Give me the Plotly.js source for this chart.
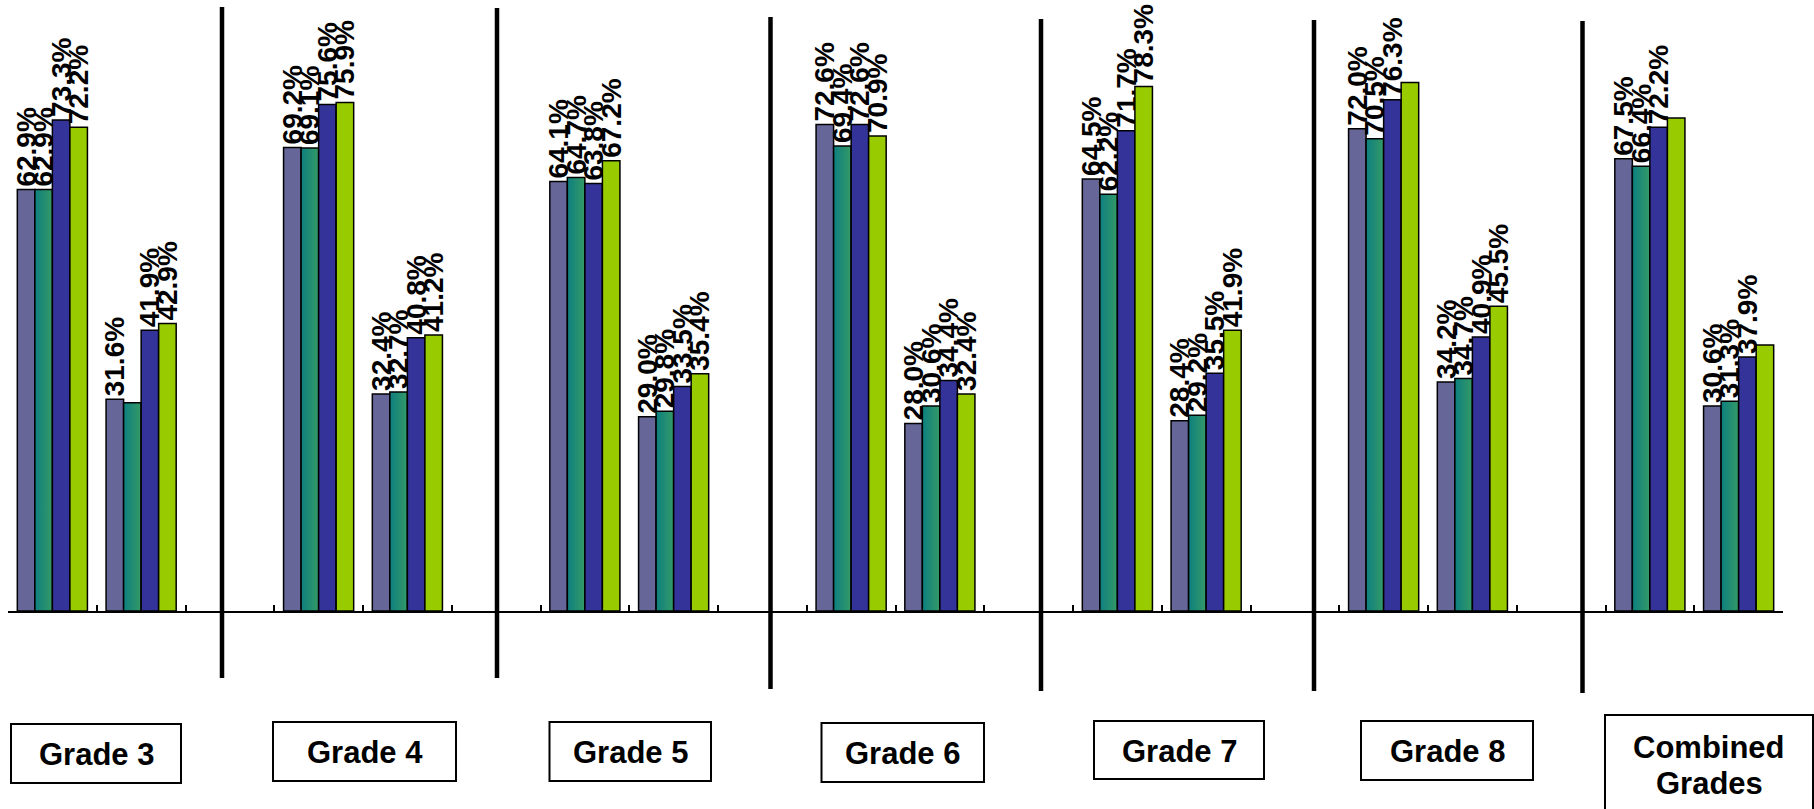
<!DOCTYPE html>
<html>
<head>
<meta charset="utf-8">
<script src="https://cdn.plot.ly/plotly-3.0.1.min.js"></script>
<style>
  html, body { margin: 0; padding: 0; background: #ffffff; }
  #chart { width: 1814px; height: 809px; }
</style>
</head>
<body>
<div id="chart"></div>
<script>
// ---------------- DATA ----------------
const grades = ['Grade 3', 'Grade 4', 'Grade 5', 'Grade 6', 'Grade 7', 'Grade 8', 'Combined<br>Grades'];
const subgroups = ['A', 'B'];               // two bar clusters per grade
const seriesNames = ['Series 1', 'Series 2', 'Series 3', 'Series 4'];

// values per grade: [A, B] pairs in grade order
const series1 = [62.9, 31.6, 69.2, 32.4, 64.1, 29.0, 72.6, 28.0, 64.5, 28.4, 72.0, 34.2, 67.5, 30.6];
const series2 = [62.9, 31.1, 69.1, 32.7, 64.7, 29.8, 69.4, 30.6, 62.2, 29.2, 70.5, 34.7, 66.4, 31.3];
const series3 = [73.3, 41.9, 75.6, 40.8, 63.8, 33.5, 72.6, 34.4, 71.7, 35.5, 76.3, 40.9, 72.2, 37.9];
const series4 = [72.2, 42.9, 75.9, 41.2, 67.2, 35.4, 70.9, 32.4, 78.3, 41.9, 78.9, 45.5, 73.6, 39.7];
// labels that are not shown in the original (series index -> bar indices)
const hiddenLabels = [[], [1], [], [10, 12, 13]];

// ---------------- LAYOUT CONSTANTS ----------------
const W = 1814, H = 809;
const M = { l: 8, r: 31, t: 0, b: 198 };
const PW = W - M.l - M.r, PH = H - M.t - M.b;
const px = x => (x - M.l) / PW;
const py = y => (M.t + PH - y) / PH;

const colors = ['#666699', '#1f8a77', '#333399', '#99cc00'];
const allSeries = [series1, series2, series3, series4];

// x positions: each grade takes 3 slots (2 clusters + 1 gap)
const xPos = [];
grades.forEach((g, gi) => subgroups.forEach((s, si) => xPos.push(gi * 3 + si)));
const nSlots = grades.length * 3 - 1;
const boundaries = [];
for (let i = 0; i <= nSlots; i++) boundaries.push(i - 0.5);

const traces = allSeries.map((vals, k) => ({
  type: 'bar',
  name: seriesNames[k],
  x: xPos,
  y: vals,
  text: vals.map((v, i) => hiddenLabels[k].includes(i) ? '' : '<b>' + v.toFixed(1) + '%</b>'),
  textposition: 'outside',
  textangle: -90,
  constraintext: 'none',
  cliponaxis: false,
  textfont: { family: 'Liberation Sans, Arial, sans-serif', size: 28, color: '#000000' },
  marker: { color: colors[k], line: { color: '#000000', width: 1.5 } },
  hoverinfo: 'skip'
}));

// separator lines (pixel placement: x, top, bottom)
const separators = [[222, 7, 678], [497, 8, 678], [770.5, 17, 689], [1041, 19, 691], [1314, 20, 691], [1582.5, 21, 693]];
// label boxes (pixel placement: x0, x1, y0, y1)
const boxes = [[11, 181, 724, 783], [273, 456, 722, 781], [549.5, 711, 722, 781], [821.5, 984, 723, 782],
               [1094, 1264, 721, 779], [1361, 1533, 721, 780], [1605, 1813, 715, 840]];

const shapes = [];
separators.forEach(s => shapes.push({
  type: 'line', xref: 'paper', yref: 'paper',
  x0: px(s[0]), x1: px(s[0]), y0: py(s[1]), y1: py(s[2]),
  line: { color: '#000000', width: 4.5 }
}));
boxes.forEach(b => shapes.push({
  type: 'rect', xref: 'paper', yref: 'paper',
  x0: px(b[0]), x1: px(b[1]), y0: py(b[2]), y1: py(b[3]),
  line: { color: '#000000', width: 2 }, fillcolor: 'rgba(0,0,0,0)'
}));

const annotations = [];
grades.forEach((g, i) => {
  const b = boxes[i];
  const lines = g.split('<br>');
  const cx = (b[0] + b[1]) / 2;
  if (lines.length === 1) {
    annotations.push({ xref: 'paper', yref: 'paper', x: px(cx), y: py((b[2] + b[3]) / 2 + 1),
      text: '<b>' + g + '</b>', showarrow: false, xanchor: 'center', yanchor: 'middle',
      font: { family: 'Liberation Sans, Arial, sans-serif', size: 31, color: '#000000' } });
  } else {
    lines.forEach((ln, j) => annotations.push({ xref: 'paper', yref: 'paper', x: px(cx), y: py(747 + j * 36),
      text: '<b>' + ln + '</b>', showarrow: false, xanchor: 'center', yanchor: 'middle',
      font: { family: 'Liberation Sans, Arial, sans-serif', size: 31, color: '#000000' } }));
  }
});

const layout = {
  width: W, height: H,
  margin: M,
  paper_bgcolor: '#ffffff', plot_bgcolor: '#ffffff',
  showlegend: false,
  barmode: 'group',
  bargap: 0.21,
  bargroupgap: 0,
  xaxis: {
    type: 'linear', range: [-0.5, nSlots - 0.5], fixedrange: true,
    tickmode: 'array', tickvals: boundaries, showticklabels: false,
    ticks: 'inside', ticklen: 6, tickwidth: 2, tickcolor: '#000000',
    showline: true, linecolor: '#000000', linewidth: 2,
    showgrid: false, zeroline: false
  },
  yaxis: { range: [0, 91.2], visible: false, fixedrange: true },
  shapes: shapes,
  annotations: annotations
};

Plotly.newPlot('chart', traces, layout, { staticPlot: true, displayModeBar: false }).then(gd => {
  // horizontal teal gradient for the second series, as in the original
  const svg = gd.querySelector('svg.main-svg');
  const ns = 'http://www.w3.org/2000/svg';
  let defs = svg.querySelector('defs');
  if (!defs) { defs = document.createElementNS(ns, 'defs'); svg.insertBefore(defs, svg.firstChild); }
  const grad = document.createElementNS(ns, 'linearGradient');
  grad.setAttribute('id', 'tealGrad');
  grad.setAttribute('x1', '0'); grad.setAttribute('x2', '1'); grad.setAttribute('y1', '0'); grad.setAttribute('y2', '0');
  [['0%', '#0e7f80'], ['100%', '#349a66']].forEach(([o, c]) => {
    const st = document.createElementNS(ns, 'stop');
    st.setAttribute('offset', o); st.setAttribute('stop-color', c);
    grad.appendChild(st);
  });
  defs.appendChild(grad);
  const barTraces = gd.querySelectorAll('.barlayer .trace');
  if (barTraces[1]) barTraces[1].querySelectorAll('path').forEach(p => { p.style.fill = 'url(#tealGrad)'; });
});
</script>
</body>
</html>
